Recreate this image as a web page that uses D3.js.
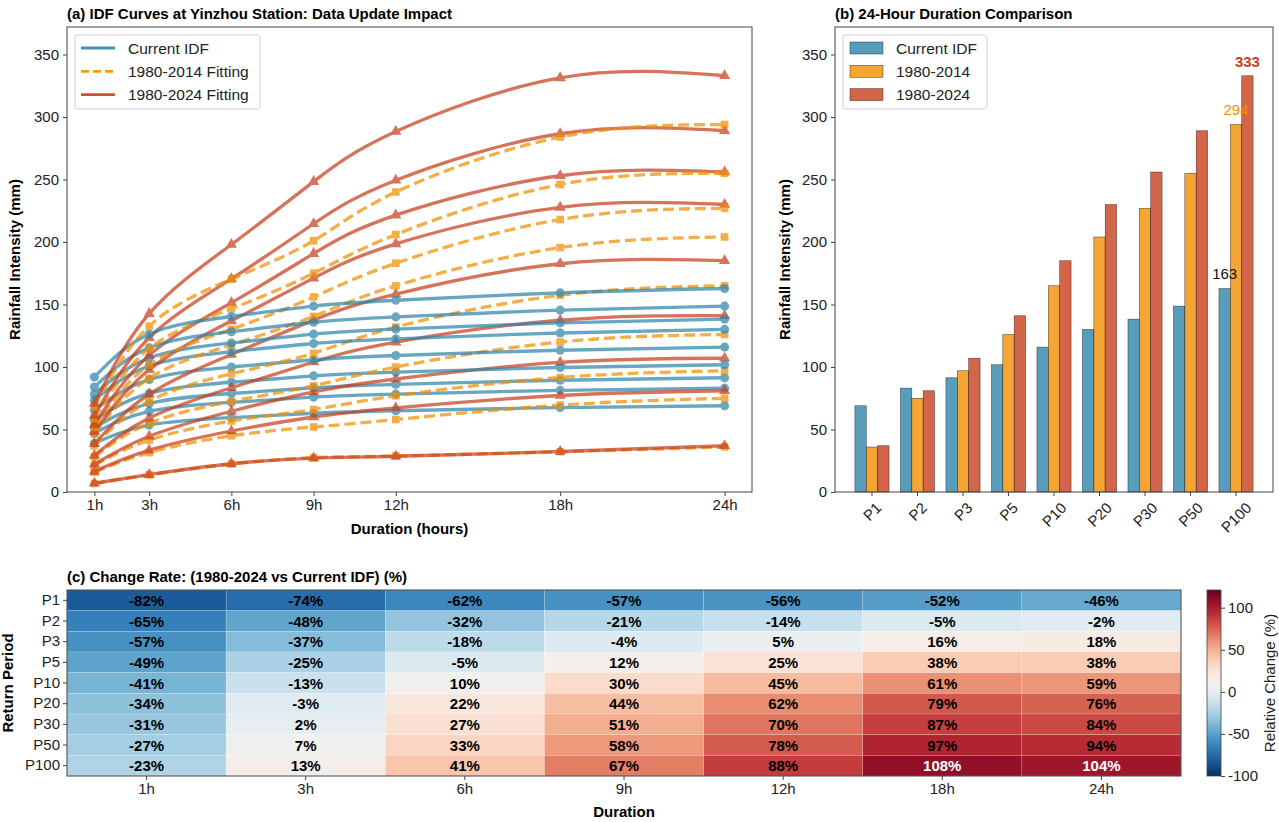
<!DOCTYPE html>
<html>
<head>
<meta charset="utf-8">
<script src="https://cdn.jsdelivr.net/npm/d3@7"></script>
<style>
  body { margin: 0; background: #fff; }
  svg { font-family: "Liberation Sans", Arial, sans-serif; }
</style>
</head>
<body>
<svg id="chart" width="1279" height="822"></svg>
<script>
// ---- data ----
const durations = [1, 3, 6, 9, 12, 18, 24];
const durationLabels = ['1h', '3h', '6h', '9h', '12h', '18h', '24h'];
const periods = ['P1', 'P2', 'P3', 'P5', 'P10', 'P20', 'P30', 'P50', 'P100'];

// rainfall (mm), one row per return period, one value per duration
const currentIDF = [
    [39.0, 53.5, 59.5, 63.0, 65.0, 67.5, 69.0],
    [47.0, 64.5, 71.7, 75.9, 78.3, 81.3, 83.1],
    [51.6, 70.8, 78.8, 83.4, 86.1, 89.4, 91.4],
    [57.5, 78.9, 87.8, 92.9, 95.9, 99.6, 101.8],
    [65.5, 89.9, 100.0, 105.8, 109.2, 113.4, 115.9],
    [73.5, 100.8, 112.2, 118.8, 122.5, 127.2, 130.1],
    [78.2, 107.2, 119.2, 126.3, 130.3, 135.3, 138.3],
    [84.0, 115.3, 128.2, 135.8, 140.1, 145.5, 148.7],
    [92.0, 126.3, 140.4, 148.7, 153.4, 159.3, 162.8]
];
const fit2014 = [
    [6.8, 13.7, 22.4, 27.5, 28.8, 32.2, 36.0],
    [15.8, 31.5, 45.0, 52.0, 58.0, 69.5, 75.0],
    [21.3, 41.5, 56.8, 66.0, 77.0, 91.6, 97.0],
    [28.1, 55.0, 72.5, 85.0, 100.0, 120.0, 126.0],
    [37.0, 72.7, 94.6, 111.0, 132.0, 157.4, 165.0],
    [46.5, 91.0, 117.7, 140.5, 165.0, 195.5, 204.0],
    [51.8, 101.6, 130.2, 156.0, 183.0, 218.0, 227.0],
    [58.8, 114.8, 146.6, 175.0, 206.0, 246.0, 255.0],
    [68.0, 132.7, 170.3, 201.0, 240.0, 284.0, 294.0]
];
const fit2024 = [
    [7.0, 13.9, 22.6, 27.1, 28.6, 32.4, 37.0],
    [16.5, 33.5, 48.8, 60.0, 67.3, 77.2, 81.0],
    [22.2, 44.6, 64.6, 80.1, 90.4, 103.7, 107.0],
    [29.3, 59.2, 83.4, 104.0, 119.9, 137.4, 141.0],
    [38.6, 78.2, 110.0, 137.5, 158.3, 182.6, 185.0],
    [48.5, 97.8, 136.9, 171.1, 198.5, 227.7, 230.0],
    [54.0, 109.3, 151.4, 190.7, 221.5, 253.0, 256.0],
    [61.3, 123.4, 170.5, 214.6, 249.4, 286.6, 289.0],
    [70.8, 142.7, 198.0, 248.3, 288.4, 331.3, 333.0]
];
// change rate (%) 1980-2024 vs current IDF
const changeRate = [
    [-82, -74, -62, -57, -56, -52, -46],
    [-65, -48, -32, -21, -14, -5, -2],
    [-57, -37, -18, -4, 5, 16, 18],
    [-49, -25, -5, 12, 25, 38, 38],
    [-41, -13, 10, 30, 45, 61, 59],
    [-34, -3, 22, 44, 62, 79, 76],
    [-31, 2, 27, 51, 70, 87, 84],
    [-27, 7, 33, 58, 78, 97, 94],
    [-23, 13, 41, 67, 88, 108, 104]
];
const yTicks = [0, 50, 100, 150, 200, 250, 300, 350];
const cbTicks = [-100, -50, 0, 50, 100];

const BLUE = '#2E86AB', ORANGE = '#F18F01', RED = '#C73E1D';
const SPINE = '#444';
const FS = '15px';

const svg = d3.select('#chart');

function styleAxis(a) {
    a.select('.domain').remove();
    a.selectAll('line').attr('stroke', SPINE);
    a.selectAll('text').style('font-size', FS).attr('fill', '#222');
}

function yAxisDraw(g, scale, x0) {
    g.append('g')
    .attr('transform', `translate(${x0},0)`)
    .call(d3.axisLeft(scale).tickValues(yTicks).tickSize(4).tickPadding(4))
    .call(styleAxis);
}

// ================= panel (a) =================
const A = { l: 67, r: 752, t: 27, b: 492 };
const xA = d3.scaleLinear().domain([0, 25]).range([A.l, A.r]);
const yA = d3.scaleLinear().domain([0, 372]).range([A.b, A.t]);

const gA = svg.append('g');
yAxisDraw(gA, yA, A.l);
gA.append('g')
.attr('transform', `translate(0,${A.b})`)
.call(d3.axisBottom(xA).tickValues(durations).tickFormat((d, i) => durationLabels[i]).tickSize(4).tickPadding(3))
.call(styleAxis);

svg.append('clipPath').attr('id', 'clipA')
.append('rect').attr('x', A.l).attr('y', A.t).attr('width', A.r - A.l).attr('height', A.b - A.t);

const plotA = gA.append('g').attr('clip-path', 'url(#clipA)');
const lineA = d3.line().x(d => xA(d[0])).y(d => yA(d[1])).curve(d3.curveNatural);

const seriesA = [
    { data: currentIDF, color: BLUE, dash: null, marker: 'circle' },
    { data: fit2014, color: ORANGE, dash: '11,5', marker: 'square' },
    { data: fit2024, color: RED, dash: null, marker: 'triangle' }
];

periods.forEach((p, pi) => {
    seriesA.forEach(s => {
        const pts = durations.map((d, j) => [d, s.data[pi][j]]);
        const grp = plotA.append('g').attr('opacity', 0.72);
        grp.append('path')
        .attr('d', lineA(pts))
        .attr('fill', 'none')
        .attr('stroke', s.color)
        .attr('stroke-width', 3.3)
        .attr('stroke-dasharray', s.dash);
        const sym = s.marker === 'circle' ? d3.symbolCircle : s.marker === 'square' ? d3.symbolSquare : d3.symbolTriangle;
        const size = s.marker === 'circle' ? 64 : s.marker === 'square' ? 58 : 55;
        grp.selectAll('path.m')
        .data(pts)
        .enter()
        .append('path')
        .attr('class', 'm')
        .attr('d', d3.symbol().type(sym).size(size))
        .attr('transform', d => `translate(${xA(d[0])},${yA(d[1])})`)
        .attr('fill', s.color);
    });
});

gA.append('rect')
.attr('x', A.l).attr('y', A.t).attr('width', A.r - A.l).attr('height', A.b - A.t)
.attr('fill', 'none').attr('stroke', SPINE).attr('stroke-width', 1);

gA.append('text')
.attr('x', A.l).attr('y', 19)
.style('font-size', FS).style('font-weight', 'bold')
.text('(a) IDF Curves at Yinzhou Station: Data Update Impact');
gA.append('text')
.attr('transform', `translate(20,${(A.t + A.b) / 2}) rotate(-90)`)
.attr('text-anchor', 'middle')
.style('font-size', FS).style('font-weight', 'bold')
.text('Rainfall Intensity (mm)');
gA.append('text')
.attr('x', (A.l + A.r) / 2).attr('y', 534)
.attr('text-anchor', 'middle')
.style('font-size', FS).style('font-weight', 'bold')
.text('Duration (hours)');

// legend (a)
const legA = gA.append('g').attr('transform', 'translate(75,35)');
legA.append('rect')
.attr('width', 185).attr('height', 74).attr('rx', 3)
.attr('fill', '#fff').attr('fill-opacity', 0.85).attr('stroke', '#d0d0d0');
[['Current IDF', BLUE, null], ['1980-2014 Fitting', ORANGE, '8,4'], ['1980-2024 Fitting', RED, null]].forEach((e, i) => {
    const yy = 13 + i * 23.3;
    legA.append('line')
    .attr('x1', 6).attr('x2', 40).attr('y1', yy).attr('y2', yy)
    .attr('stroke', e[1]).attr('stroke-width', 2.8).attr('stroke-dasharray', e[2]).attr('opacity', 0.9);
    legA.append('text')
    .attr('x', 53).attr('y', yy + 5.5)
    .style('font-size', '15.5px').attr('fill', '#222')
    .text(e[0]);
});

// ================= panel (b) =================
const B = { l: 835, r: 1273, t: 27, b: 492 };
const xB = d3.scaleLinear().domain([-0.8125, 8.8125]).range([B.l, B.r]);
const yB = d3.scaleLinear().domain([0, 372]).range([B.b, B.t]);
const gB = svg.append('g');
yAxisDraw(gB, yB, B.l);

const last = durations.length - 1;
const barSeries = [
    { name: 'Current IDF', vals: currentIDF.map(r => r[last]), color: BLUE, off: -0.25 },
    { name: '1980-2014', vals: fit2014.map(r => r[last]), color: ORANGE, off: 0 },
    { name: '1980-2024', vals: fit2024.map(r => r[last]), color: RED, off: 0.25 }
];
const bw = 0.25;
barSeries.forEach(s => {
    gB.selectAll(null)
    .data(s.vals)
    .enter()
    .append('rect')
    .attr('x', (d, i) => xB(i + s.off - bw / 2))
    .attr('width', xB(bw) - xB(0))
    .attr('y', d => yB(d))
    .attr('height', d => yB(0) - yB(d))
    .attr('fill', s.color)
    .attr('fill-opacity', 0.8)
    .attr('stroke', '#000')
    .attr('stroke-opacity', 0.6)
    .attr('stroke-width', 0.6);
});

// value labels on the P100 group
const lastP = periods.length - 1;
[[0, '#111', 'normal'], [1, ORANGE, 'normal'], [2, RED, 'bold']].forEach(([si, c, w]) => {
    const s = barSeries[si];
    gB.append('text')
    .attr('x', xB(lastP + s.off))
    .attr('y', yB(s.vals[lastP] + 5) - 3)
    .attr('text-anchor', 'middle')
    .style('font-size', FS).style('font-weight', w)
    .attr('fill', c)
    .text(Math.round(s.vals[lastP]));
});

// x ticks (rotated)
periods.forEach((p, i) => {
    const x = xB(i);
    gB.append('line').attr('x1', x).attr('x2', x).attr('y1', B.b).attr('y2', B.b + 4).attr('stroke', SPINE);
    const t = gB.append('text')
    .attr('text-anchor', 'middle')
    .attr('dominant-baseline', 'central')
    .style('font-size', FS).attr('fill', '#222')
    .text(p);
    const w = t.node().getComputedTextLength();
    const half = (w + 14) * 0.7071 / 2;
    t.attr('transform', `translate(${x},${B.b + 8 + half}) rotate(-45)`);
});

gB.append('rect')
.attr('x', B.l).attr('y', B.t).attr('width', B.r - B.l).attr('height', B.b - B.t)
.attr('fill', 'none').attr('stroke', SPINE).attr('stroke-width', 1);

gB.append('text')
.attr('x', B.l).attr('y', 19)
.style('font-size', FS).style('font-weight', 'bold')
.text('(b) 24-Hour Duration Comparison');
gB.append('text')
.attr('transform', `translate(790,${(B.t + B.b) / 2}) rotate(-90)`)
.attr('text-anchor', 'middle')
.style('font-size', FS).style('font-weight', 'bold')
.text('Rainfall Intensity (mm)');

const legB = gB.append('g').attr('transform', 'translate(843,35)');
legB.append('rect')
.attr('width', 144).attr('height', 74).attr('rx', 3)
.attr('fill', '#fff').attr('fill-opacity', 0.85).attr('stroke', '#d0d0d0');
barSeries.forEach((s, i) => {
    const yy = 13 + i * 23.3;
    legB.append('rect')
    .attr('x', 7).attr('y', yy - 6).attr('width', 33).attr('height', 12)
    .attr('fill', s.color).attr('fill-opacity', 0.8)
    .attr('stroke', '#000').attr('stroke-opacity', 0.6).attr('stroke-width', 0.6);
    legB.append('text')
    .attr('x', 53).attr('y', yy + 5.5)
    .style('font-size', '15.5px').attr('fill', '#222')
    .text(s.name);
});

// ================= panel (c) heatmap =================
const C = { l: 67, r: 1181, t: 590, b: 776 };
const xC = d3.scaleBand().domain(durationLabels).range([C.l, C.r]);
const yC = d3.scaleBand().domain(periods).range([C.t, C.b]);
const color = d3.scaleSequential(t => d3.interpolateRdBu(1 - t)).domain([-100, 121]);
const gC = svg.append('g');

const cells = [];
periods.forEach((p, i) => durationLabels.forEach((d, j) => cells.push({ p, d, v: changeRate[i][j] })));

gC.selectAll('rect.cell')
.data(cells)
.enter()
.append('rect')
.attr('class', 'cell')
.attr('x', d => xC(d.d))
.attr('y', d => yC(d.p))
.attr('width', xC.bandwidth())
.attr('height', yC.bandwidth())
.attr('fill', d => color(d.v))
.attr('stroke', '#fff')
.attr('stroke-opacity', 0.35)
.attr('stroke-width', 0.5);

gC.selectAll('text.val')
.data(cells)
.enter()
.append('text')
.attr('class', 'val')
.attr('x', d => xC(d.d) + xC.bandwidth() / 2)
.attr('y', d => yC(d.p) + yC.bandwidth() / 2 + 5.5)
.attr('text-anchor', 'middle')
.style('font-size', FS).style('font-weight', 'bold')
.attr('fill', d => Math.abs(d.v) > 100 ? '#fff' : '#000')
.text(d => `${d.v}%`);

gC.append('rect')
.attr('x', C.l).attr('y', C.t).attr('width', C.r - C.l).attr('height', C.b - C.t)
.attr('fill', 'none').attr('stroke', SPINE).attr('stroke-width', 1);

gC.append('g')
.attr('transform', `translate(${C.l},0)`)
.call(d3.axisLeft(yC).tickSize(4).tickPadding(3))
.call(styleAxis);
gC.append('g')
.attr('transform', `translate(0,${C.b})`)
.call(d3.axisBottom(xC).tickSize(4).tickPadding(3))
.call(styleAxis);

gC.append('text')
.attr('x', C.l).attr('y', 582)
.style('font-size', FS).style('font-weight', 'bold')
.text('(c) Change Rate: (1980-2024 vs Current IDF) (%)');
gC.append('text')
.attr('transform', `translate(13,${(C.t + C.b) / 2}) rotate(-90)`)
.attr('text-anchor', 'middle')
.style('font-size', FS).style('font-weight', 'bold')
.text('Return Period');
gC.append('text')
.attr('x', (C.l + C.r) / 2).attr('y', 817)
.attr('text-anchor', 'middle')
.style('font-size', FS).style('font-weight', 'bold')
.text('Duration');

// colorbar
const CB = { l: 1207, w: 14, t: 590, b: 776 };
const yCB = d3.scaleLinear().domain([-100, 121]).range([CB.b, CB.t]);
const grad = svg.append('defs').append('linearGradient')
.attr('id', 'cbGrad').attr('x1', 0).attr('x2', 0).attr('y1', 1).attr('y2', 0);
d3.range(0, 1.0001, 0.02).forEach(t => {
    grad.append('stop').attr('offset', t).attr('stop-color', color(-100 + t * 221));
});
gC.append('rect')
.attr('x', CB.l).attr('y', CB.t).attr('width', CB.w).attr('height', CB.b - CB.t)
.attr('fill', 'url(#cbGrad)').attr('stroke', SPINE).attr('stroke-width', 0.8);
gC.append('g')
.attr('transform', `translate(${CB.l + CB.w},0)`)
.call(d3.axisRight(yCB).tickValues(cbTicks).tickFormat(d => String(d)).tickSize(4).tickPadding(3))
.call(styleAxis);
gC.append('text')
.attr('transform', `translate(1275,${(CB.t + CB.b) / 2}) rotate(-90)`)
.attr('text-anchor', 'middle')
.style('font-size', FS).attr('fill', '#222')
.text('Relative Change (%)');
</script>
</body>
</html>
